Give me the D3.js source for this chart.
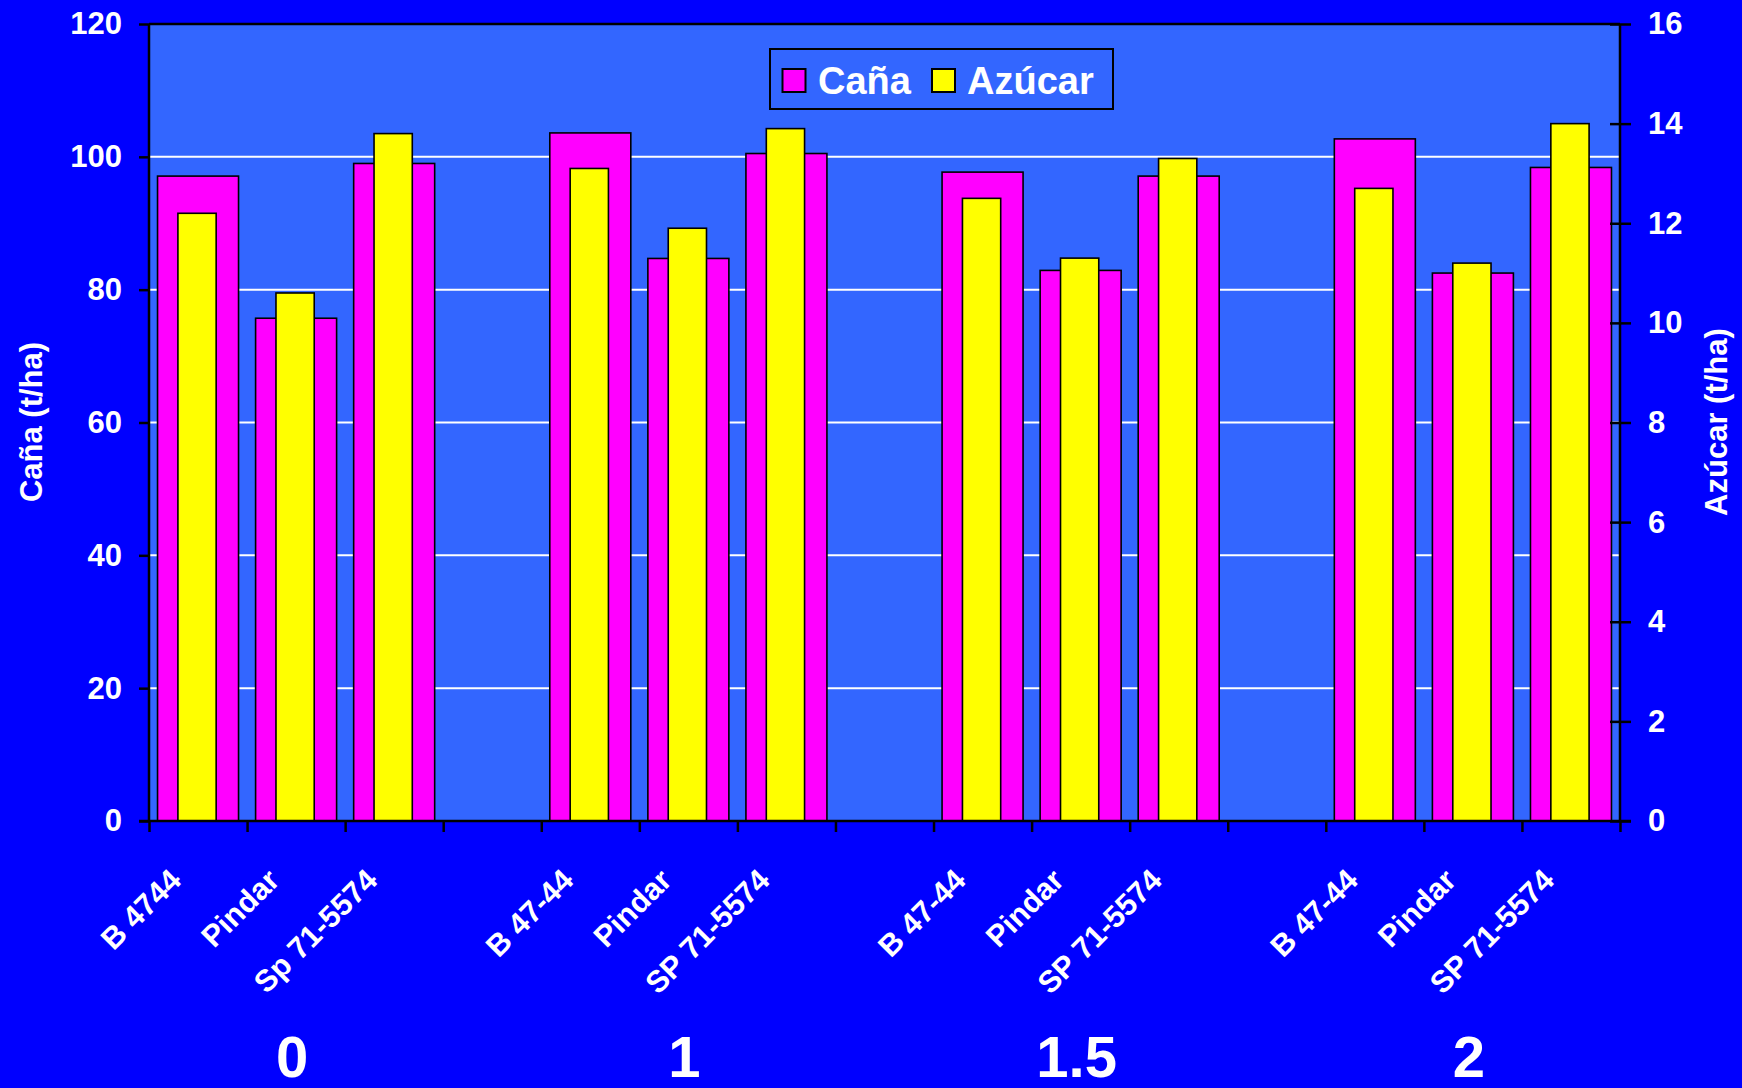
<!DOCTYPE html>
<html>
<head>
<meta charset="utf-8">
<script src="https://cdn.jsdelivr.net/npm/d3@7"></script>
<style>
  html, body { margin: 0; padding: 0; background: #0000FF; }
  svg { display: block; }
  text { font-family: "Liberation Sans", Arial, sans-serif; font-weight: bold; fill: #FFFFFF; }
</style>
</head>
<body>
<svg id="chart" width="1742" height="1088"></svg>
<script>
const groups = ["0", "1", "1.5", "2"];
const varieties = [
  ["B 4744", "Pindar", "Sp 71-5574"],
  ["B 47-44", "Pindar", "SP 71-5574"],
  ["B 47-44", "Pindar", "SP 71-5574"],
  ["B 47-44", "Pindar", "SP 71-5574"]
];
const cana = [97.1, 75.7, 99.0, 103.6, 84.7, 100.5, 97.7, 82.9, 97.1, 102.7, 82.5, 98.4];
const azucar = [12.2, 10.6, 13.8, 13.1, 11.9, 13.9, 12.5, 11.3, 13.3, 12.7, 11.2, 14.0];
const leftTicks = [0, 20, 40, 60, 80, 100, 120];
const rightTicks = [0, 2, 4, 6, 8, 10, 12, 14, 16];
const seriesNames = ["Caña", "Azúcar"];
const axisTitles = ["Caña (t/ha)", "Azúcar (t/ha)"];

const svg = d3.select("#chart");
const W = 1742, H = 1088;
const m = { left: 149, right: 1620, top: 24, bottom: 821 };

svg.append("rect").attr("width", W).attr("height", H).attr("fill", "#0000FF");

// slots: 3 varieties per group + 1 empty slot between groups => 15
const nSlots = groups.length * 4 - 1;
const slotOf = (g, j) => g * 4 + j;
const x = d3.scaleBand().domain(d3.range(nSlots)).range([m.left, m.right]).padding(0);
const xl = d3.scaleLinear().domain([0, nSlots]).range([m.left, m.right]);
const yL = d3.scaleLinear().domain([0, 120]).range([m.bottom, m.top]);
const yR = d3.scaleLinear().domain([0, 16]).range([m.bottom, m.top]);

// plot background
svg.append("rect").attr("x", m.left).attr("y", m.top)
  .attr("width", m.right - m.left).attr("height", m.bottom - m.top)
  .attr("fill", "#3366FF");

// gridlines
svg.append("g").selectAll("line").data(leftTicks.filter(v => v > 0 && v < 120)).join("line")
  .attr("x1", m.left).attr("x2", m.right)
  .attr("y1", d => yL(d)).attr("y2", d => yL(d))
  .attr("stroke", "#FFFFFF").attr("stroke-width", 2);

// bar data
const bars = [];
groups.forEach((g, gi) => {
  varieties[gi].forEach((v, j) => {
    const k = gi * 3 + j;
    bars.push({ slot: slotOf(gi, j), name: v, cana: cana[k], azucar: azucar[k] });
  });
});

const bw = x.bandwidth();
const wC = bw * 0.826, wA = bw * 0.39;
svg.append("g").selectAll("rect").data(bars).join("rect")
  .attr("x", d => x(d.slot) + bw / 2 - wC / 2)
  .attr("width", wC)
  .attr("y", d => yL(d.cana))
  .attr("height", d => yL(0) - yL(d.cana))
  .attr("fill", "#FF00FF").attr("stroke", "#000").attr("stroke-width", 1.6);

svg.append("g").selectAll("rect").data(bars).join("rect")
  .attr("x", d => x(d.slot) + bw / 2 - wA / 2 - 1)
  .attr("width", wA)
  .attr("y", d => yR(d.azucar))
  .attr("height", d => yR(0) - yR(d.azucar))
  .attr("fill", "#FFFF00").attr("stroke", "#000").attr("stroke-width", 1.6);

// top border
svg.append("line").attr("x1", m.left).attr("x2", m.right)
  .attr("y1", m.top).attr("y2", m.top).attr("stroke", "#000").attr("stroke-width", 2.5);

// left axis
const gL = svg.append("g").attr("transform", `translate(${m.left},0)`)
  .call(d3.axisLeft(yL).tickValues(leftTicks).tickSize(10).tickPadding(17));
// right axis
const gR = svg.append("g").attr("transform", `translate(${m.right},0)`)
  .call(d3.axisRight(yR).tickValues(rightTicks).tickSize(11).tickPadding(17));
gR.selectAll(".tick line").attr("x1", -10);
// bottom axis
const gB = svg.append("g").attr("transform", `translate(0,${m.bottom})`)
  .call(d3.axisBottom(xl).tickValues(d3.range(nSlots + 1)).tickSize(11).tickFormat(""));
gB.select(".domain").attr("d", `M${m.left - 10},0H${m.right + 11}`);

[gL, gR, gB].forEach(g => {
  g.select(".domain").attr("stroke", "#000").attr("stroke-width", 2.5);
  g.selectAll(".tick line").attr("stroke", "#000").attr("stroke-width", 2.5);
  g.selectAll(".tick text").attr("fill", "#FFFFFF").style("font-size", "31px")
    .style("font-weight", "bold").style("font-family", '"Liberation Sans", Arial, sans-serif');
});
gL.select(".domain").attr("d", `M0,${m.top}V${m.bottom}`);
gR.select(".domain").attr("d", `M0,${m.top}V${m.bottom}`);

// category labels
svg.append("g").selectAll("text").data(bars).join("text")
  .attr("transform", d => `translate(${x(d.slot) + bw / 2 - 15},882) rotate(-45)`)
  .attr("text-anchor", "end")
  .style("font-size", "30.5px")
  .text(d => d.name);

// group labels
svg.append("g").selectAll("text").data(groups).join("text")
  .attr("x", (g, gi) => x(slotOf(gi, 1)) + bw / 2 - 4)
  .attr("y", 1077)
  .attr("text-anchor", "middle")
  .style("font-size", "58px")
  .text(d => d);

// axis titles
svg.append("text").attr("transform", "translate(42,422) rotate(-90)")
  .attr("text-anchor", "middle").style("font-size", "31px").text(axisTitles[0]);
svg.append("text").attr("transform", "translate(1727,422) rotate(-90)")
  .attr("text-anchor", "middle").style("font-size", "31px").text(axisTitles[1]);

// legend
const lg = svg.append("g");
lg.append("rect").attr("x", 770).attr("y", 49).attr("width", 343).attr("height", 60)
  .attr("fill", "#3366FF").attr("stroke", "#000").attr("stroke-width", 2);
const legendItems = [
  { name: seriesNames[0], color: "#FF00FF", sx: 782.5, tx: 818 },
  { name: seriesNames[1], color: "#FFFF00", sx: 932, tx: 967 }
];
legendItems.forEach(it => {
  lg.append("rect").attr("x", it.sx).attr("y", 69).attr("width", 23).attr("height", 23)
    .attr("fill", it.color).attr("stroke", "#000").attr("stroke-width", 2);
  lg.append("text").attr("x", it.tx).attr("y", 94).style("font-size", "38px").text(it.name);
});
</script>
</body>
</html>
